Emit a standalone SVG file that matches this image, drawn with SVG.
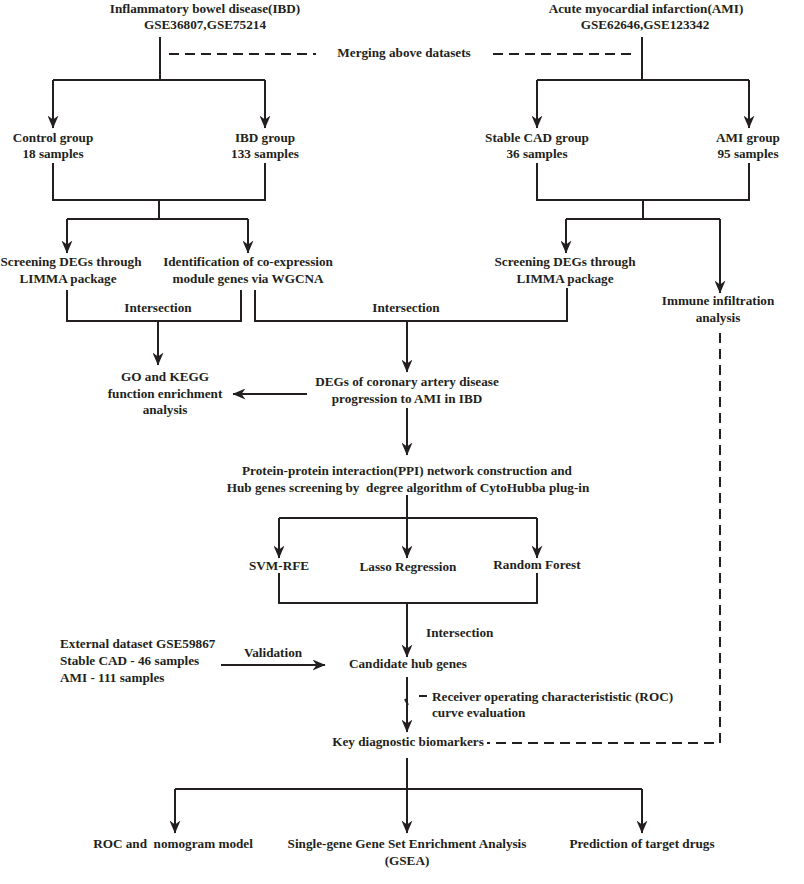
<svg xmlns="http://www.w3.org/2000/svg" width="804" height="884" viewBox="0 0 804 884">
<defs>
<marker id="ah" viewBox="0 0 13 11" refX="12.5" refY="5.5" markerWidth="13" markerHeight="11" markerUnits="userSpaceOnUse" orient="auto">
<path d="M0,0 L13,5.5 L0,11 L4,5.5 z" fill="#231f20"/>
</marker>
<style>
text{font-family:"Liberation Serif","Times New Roman",serif;font-weight:bold;font-size:13.2px;fill:#231f20;text-anchor:middle}
.s{text-anchor:start}
.ln{fill:none;stroke:#231f20;stroke-width:2}
.ar{fill:none;stroke:#231f20;stroke-width:2;marker-end:url(#ah)}
.da{fill:none;stroke:#231f20;stroke-width:2;stroke-dasharray:10,6}
</style>
</defs>
<rect width="804" height="884" fill="#ffffff"/>

<g id="connectors">
<path class="ln" d="M160,37 V80 M53,80 H265"/>
<path class="ar" d="M53,80 V128"/>
<path class="ar" d="M265,80 V128"/>
<path class="ln" d="M642,37 V80 M537,80 H749"/>
<path class="ar" d="M537,80 V128"/>
<path class="ar" d="M749,80 V128"/>
<path class="da" d="M169,54 H316"/>
<path class="da" d="M493,54 H633"/>
<path class="ln" d="M53,163 V200 H265 V163 M159,200 V219 M67,219 H248"/>
<path class="ar" d="M67,219 V253"/>
<path class="ar" d="M248,219 V253"/>
<path class="ln" d="M537,163 V200 H749 V163 M643,200 V219 M566,219 H720"/>
<path class="ar" d="M566,219 V253"/>
<path class="ar" d="M720,219 V293"/>
<path class="ln" d="M67,290 V321 H241 V290"/>
<path class="ar" d="M158,321 V365"/>
<path class="ln" d="M255,290 V321 H567 V288"/>
<path class="ar" d="M407,321 V372"/>
<path class="ar" d="M307,394 H233"/>
<path class="ar" d="M407,408 V455"/>
<path class="ln" d="M407,495 V518 M279,518 H537"/>
<path class="ar" d="M279,518 V558"/>
<path class="ar" d="M407,518 V558"/>
<path class="ar" d="M537,518 V558"/>
<path class="ln" d="M279,573 V603 H537 V573"/>
<path class="ar" d="M407,603 V657"/>
<path class="ar" d="M221,665 H325"/>
<path class="ar" d="M407,677 V732"/>
<path class="ln" d="M405,699 L408,705" stroke-width="1.5"/>
<path class="ln" d="M419,696 H427"/>
<path class="da" d="M720,333 V743 H487"/>
<path class="ln" d="M407,758 V789 M175,789 H642"/>
<path class="ar" d="M175,789 V833"/>
<path class="ar" d="M407,789 V833"/>
<path class="ar" d="M642,789 V833"/>
</g>

<g id="ibd">
<text x="205" y="13">Inflammatory bowel disease(IBD)</text>
<text x="205" y="29">GSE36807,GSE75214</text>
</g>
<g id="ami">
<text x="646" y="13">Acute myocardial infarction(AMI)</text>
<text x="645" y="29">GSE62646,GSE123342</text>
</g>
<g id="merging">
<text x="404" y="57">Merging above datasets</text>
</g>
<g id="control">
<text x="53" y="142">Control group</text>
<text x="53" y="158">18 samples</text>
</g>
<g id="ibdgroup">
<text x="265" y="142">IBD group</text>
<text x="265" y="158">133 samples</text>
</g>
<g id="stablecad">
<text x="537" y="142">Stable CAD group</text>
<text x="537" y="158">36 samples</text>
</g>
<g id="amigroup">
<text x="748" y="142">AMI group</text>
<text x="748" y="158">95 samples</text>
</g>
<g id="limma1">
<text x="71" y="266">Screening DEGs through</text>
<text x="68" y="283">LIMMA package</text>
</g>
<g id="wgcna">
<text x="248" y="266">Identification of co-expression</text>
<text x="248" y="283">module genes via WGCNA</text>
</g>
<g id="limma2">
<text x="565" y="266">Screening DEGs through</text>
<text x="565" y="283">LIMMA package</text>
</g>
<g id="immune">
<text x="718" y="305">Immune infiltration</text>
<text x="718" y="322">analysis</text>
</g>
<g id="intersection1">
<text x="158" y="312">Intersection</text>
</g>
<g id="intersection2">
<text x="406" y="312">Intersection</text>
</g>
<g id="gokegg">
<text x="165" y="381">GO and KEGG</text>
<text x="165" y="398">function enrichment</text>
<text x="165" y="414">analysis</text>
</g>
<g id="degs">
<text x="407" y="386">DEGs of coronary artery disease</text>
<text x="407" y="403">progression to AMI in IBD</text>
</g>
<g id="ppi">
<text x="407" y="475">Protein-protein interaction(PPI) network construction and</text>
<text x="408" y="492" xml:space="preserve">Hub genes screening by  degree algorithm of CytoHubba plug-in</text>
</g>
<g id="svm">
<text x="279" y="570">SVM-RFE</text>
</g>
<g id="lasso">
<text x="408" y="571">Lasso Regression</text>
</g>
<g id="rf">
<text x="537" y="569">Random Forest</text>
</g>
<g id="intersection3">
<text class="s" x="426" y="637">Intersection</text>
</g>
<g id="external">
<text class="s" x="60" y="648">External dataset GSE59867</text>
<text class="s" x="60" y="665">Stable CAD - 46 samples</text>
<text class="s" x="60" y="682">AMI - 111 samples</text>
</g>
<g id="validation">
<text x="273" y="657">Validation</text>
</g>
<g id="candidate">
<text x="408" y="668">Candidate hub genes</text>
</g>
<g id="roc-eval">
<text class="s" x="432" y="701">Receiver operating characterististic (ROC)</text>
<text class="s" x="432" y="717">curve evaluation</text>
</g>
<g id="key">
<text x="408" y="746">Key diagnostic biomarkers</text>
</g>
<g id="nomogram">
<text x="173" y="848" xml:space="preserve">ROC and  nomogram model</text>
</g>
<g id="gsea">
<text x="407" y="848">Single-gene Gene Set Enrichment Analysis</text>
<text x="407" y="865">(GSEA)</text>
</g>
<g id="drugs">
<text x="642" y="848">Prediction of target drugs</text>
</g>
</svg>
